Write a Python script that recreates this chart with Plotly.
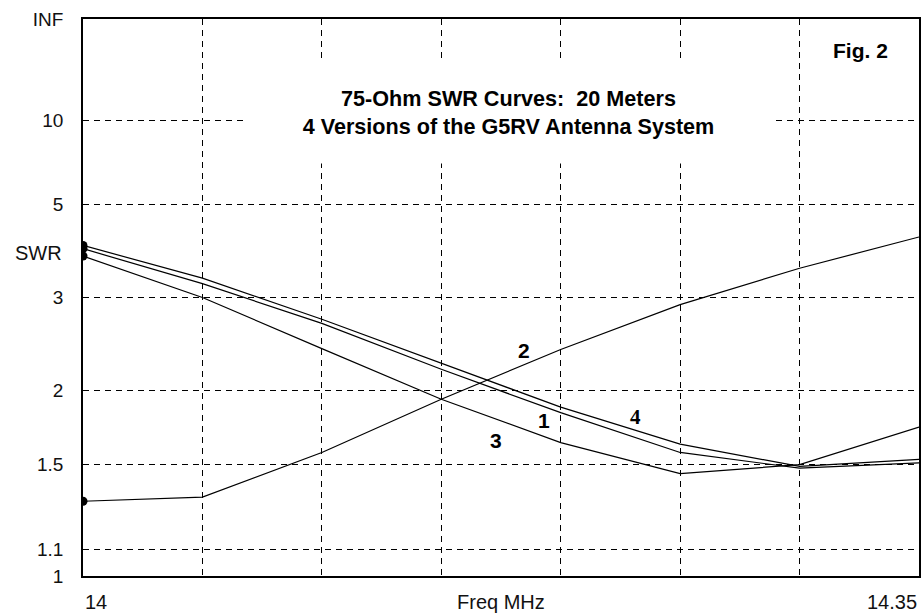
import plotly.graph_objects as go

# frequences (MHz) et SWR
freq = [14.00, 14.05, 14.10, 14.15, 14.20, 14.25, 14.30, 14.35]
swr_1 = [3.85, 3.21, 2.66, 2.18, 1.83, 1.57, 1.48, 1.51]
swr_2 = [1.31, 1.33, 1.57, 1.93, 2.37, 2.90, 3.47, 4.11]
swr_3 = [3.70, 3.00, 2.38, 1.93, 1.63, 1.45, 1.50, 1.73]
swr_4 = [3.92, 3.30, 2.71, 2.24, 1.87, 1.62, 1.49, 1.53]

swr_ticks = [1, 1.1, 1.5, 2, 3, 5, 10, float("inf")]
tick_text = ["1", "1.1", "1.5", "2", "3", "5", "10", "INF"]
freq_ticks = [14.00, 14.05, 14.10, 14.15, 14.20, 14.25, 14.30, 14.35]


def rho(s):
    # echelle EZNEC : lineaire en coefficient de reflexion
    if s == float("inf"):
        return 1.0
    return (s - 1) / (s + 1)


FONT = "Liberation Sans, Arial, sans-serif"

fig = go.Figure()

for swr in [swr_1, swr_2, swr_3, swr_4]:
    fig.add_trace(
        go.Scatter(x=freq,
                   y=[rho(s) for s in swr],
                   mode='lines',
                   line=dict(color="black", width=1.2),
                   showlegend=False,
                   hoverinfo='skip'))

# points de depart
fig.add_trace(
    go.Scatter(x=[freq[0]] * 4,
               y=[rho(s[0]) for s in [swr_1, swr_2, swr_3, swr_4]],
               mode='markers',
               marker=dict(color="black", size=9),
               showlegend=False,
               hoverinfo='skip'))

fig.update_xaxes(
        range=[14.0, 14.35],
        tickvals=freq_ticks,
        showticklabels=False,
        showgrid=True,
        gridcolor="black",
        gridwidth=1,
        griddash="6px,5px",
        zeroline=False,
        showline=True,
        linecolor="black",
        linewidth=1.5,
        mirror=True,
        ticks="")

fig.update_yaxes(
        range=[0, 1],
        tickvals=[rho(s) for s in swr_ticks],
        ticktext=tick_text,
        tickfont={"size": 19, "color": "#111", "family": FONT},
        ticklabelstandoff=14,
        showgrid=True,
        gridcolor="black",
        gridwidth=1,
        griddash="6px,5px",
        zeroline=False,
        showline=True,
        linecolor="black",
        linewidth=1.5,
        mirror=True,
        ticks="")

txt = dict(showarrow=False, font=dict(family=FONT, size=20, color="#111"))
bold = dict(showarrow=False, xanchor="center", yanchor="middle",
            font=dict(family=FONT, size=21, color="black", weight="bold"))

annotations = [
    dict(text="14", xref="x", yref="paper", x=14.0, y=0, xanchor="left",
         yanchor="middle", yshift=-26, **txt),
    dict(text="14.35", xref="x", yref="paper", x=14.35, y=0, xanchor="right",
         yanchor="middle", yshift=-26, **txt),
    dict(text="Freq MHz", xref="paper", yref="paper", x=0.5, y=0,
         xanchor="center", yanchor="middle", yshift=-26, **txt),
    dict(text="SWR", xref="paper", yref="paper", x=0, y=0.58, xanchor="right",
         yanchor="middle", xshift=-19, **txt),
    # titre sur fond blanc (masque la grille)
    dict(text="75-Ohm SWR Curves:  20 Meters<br>4 Versions of the G5RV Antenna System",
         xref="paper", yref="paper", x=0.509, y=0.832, width=523, height=99,
         xanchor="center", yanchor="middle",
         bgcolor="white", showarrow=False,
         font=dict(family=FONT, size=21.6, color="black", weight="bold")),
    dict(text="Fig. 2", xref="paper", yref="paper", x=0.9654, y=0.9443,
         **{**bold, "xanchor": "right"}),
    dict(text="2", x=14.1846, y=0.4042, **bold),
    dict(text="1", x=14.1929, y=0.2784, **bold),
    dict(text="3", x=14.1729, y=0.2425, **bold),
    dict(text="4", x=14.2313, y=0.2856, showarrow=False,
         xanchor="center", yanchor="middle",
         font=dict(family="Liberation Serif, serif", size=21, color="black", weight="bold")),
]

fig.update_layout(
    width=924,
    height=613,
    margin=dict(l=83, r=3, t=19, b=37),
    paper_bgcolor="white",
    plot_bgcolor="white",
    annotations=annotations,
    showlegend=False)

# pas de marge de page autour de la figure
fig.write_html("out.html", config={"displayModeBar": False},
               post_script="document.body.style.margin='0';")
